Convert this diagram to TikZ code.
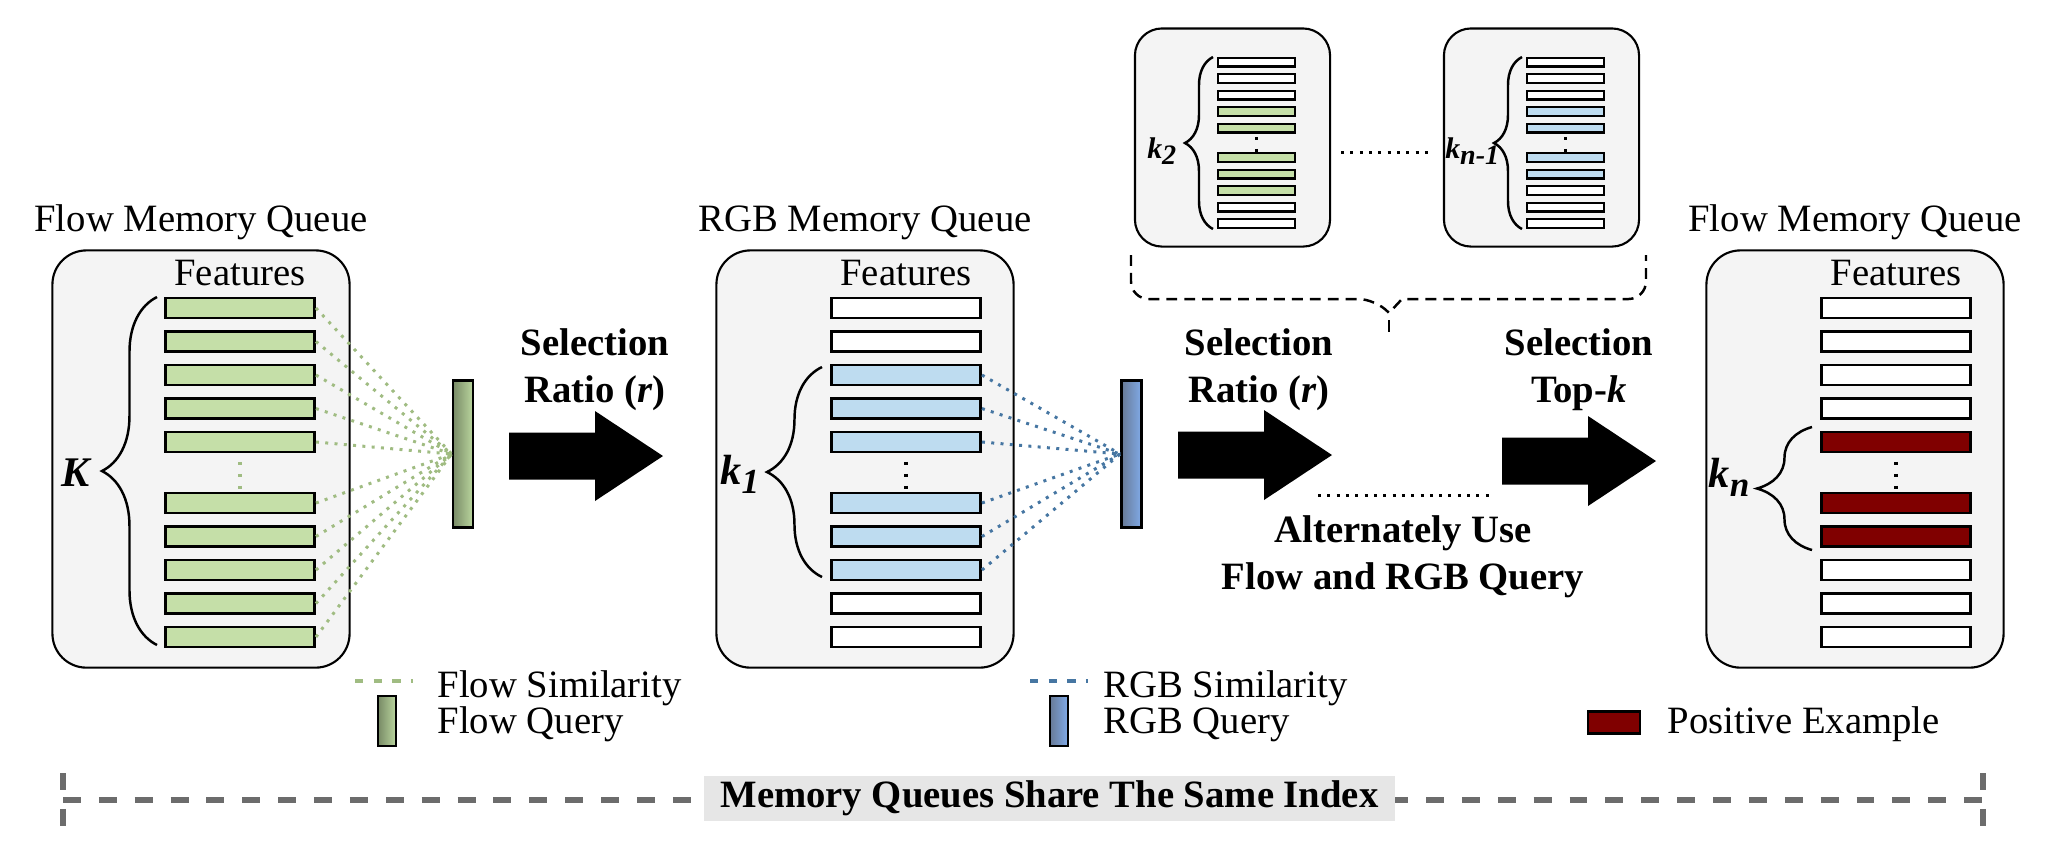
\documentclass[tikz,border=0pt]{standalone}
\usepackage{fontspec}
\setmainfont{Liberation Serif}
\usetikzlibrary{positioning,calc,decorations.pathreplacing}

\definecolor{boxgray}{RGB}{244,244,244}
\definecolor{featgreen}{RGB}{197,223,168}
\definecolor{featblue}{RGB}{190,220,240}
\definecolor{posred}{RGB}{128,0,0}
\definecolor{simgreen}{RGB}{160,188,130}
\definecolor{simblue}{RGB}{70,118,162}
\definecolor{flowdark}{RGB}{120,138,102}
\definecolor{flowlight}{RGB}{186,214,158}
\definecolor{rgbdark}{RGB}{104,122,150}
\definecolor{rgblight}{RGB}{128,170,232}
\definecolor{idxgray}{RGB}{108,108,108}
\definecolor{idxfill}{RGB}{230,230,230}

\newcommand{\kname}[3]{{\fontsize{#1}{#1}\selectfont\bfseries\itshape k\raisebox{-0.45ex}{\fontsize{#2}{#2}\selectfont #3}}}

\tikzset{
  queuebox/.style={draw, line width=0.6pt, fill=boxgray, rounded corners=0.34cm, minimum width=2.97cm, minimum height=4.17cm, inner sep=0pt},
  smallbox/.style={queuebox, rounded corners=0.27cm, minimum width=1.95cm, minimum height=2.18cm},
  feat/.style={draw, line width=0.8pt, minimum width=1.49cm, minimum height=0.20cm, inner sep=0pt},
  smallfeat/.style={draw, line width=0.7pt, minimum width=0.77cm, minimum height=0.085cm, inner sep=0pt},
  query/.style={draw, line width=0.8pt, minimum width=0.2cm, minimum height=1.47cm, inner sep=0pt},
  simdots/.style={line width=0.85pt, dash pattern=on 0.85pt off 1.8pt},
  legdots/.style={line width=1.2pt, dash pattern=on 2.4pt off 2.9pt},
  vdots/.style={line width=0.9pt, dash pattern=on 0.9pt off 2.5pt},
  kbrace/.style={decorate, decoration={brace, amplitude=#1}, line width=0.7pt},
  bracedash/.style={line width=0.7pt, dash pattern=on 3.1pt off 2pt},
  idxline/.style={idxgray, line width=1.45pt, dash pattern=on 5.1pt off 5.1pt},
  plain/.style={inner sep=0pt},
  boldlabel/.style={inner sep=0pt, align=center, font=\fontsize{11}{13.4}\selectfont\bfseries},
  fatarrow/.pic={\fill (0,-23.5) -- (86,-23.5) -- (86,-45) -- (154,0) -- (86,45) -- (86,23.5) -- (0,23.5) -- cycle;}
}

\begin{document}
\begin{tikzpicture}[x=0.01cm, y=-0.01cm, font=\fontsize{11}{13.4}\selectfont]
  \useasboundingbox (0,0) rectangle (2063,850);
  \def\rowsA{1/308,2/341.5,3/375,4/408.5,5/442,6/503,7/536.5,8/570,9/603.5,10/637}

  % flow memory queue
  \node[queuebox] (flowq) at (201,459) {};
  \node[plain, above=0.09cm of flowq] (flowqt) {Flow Memory Queue};
  \foreach \i/\y in \rowsA
    \node[feat, fill=featgreen] (fl\i) at (240,\y) {};
  \node[plain, above=0.1cm of fl1] (flowf) {Features};
  \draw[vdots, simgreen, shorten <=2.4pt] (fl5.south) -- (fl6.north);
  \draw[kbrace=0.55cm] (157,645) -- (157,297);
  \node[plain, anchor=east] (bigk) at (90,473) {\fontsize{12}{12}\selectfont\bfseries\itshape K};
  \node[query, left color=flowdark, right color=flowlight] (fq) at (463,454) {};
  \foreach \i in {1,...,10}
    \draw[simdots, simgreen] (fl\i.east) -- (fq.west);

  \pic (arrA) at (509,456) {fatarrow};
  \node[boldlabel] (selA) at (595,370) {Selection\\Ratio (\textit{r})};

  % rgb memory queue
  \node[queuebox] (rgbq) at (865,459) {};
  \node[plain, above=0.09cm of rgbq] (rgbqt) {RGB Memory Queue};
  \foreach \i/\y/\c in {1/308/white,2/341.5/white,3/375/featblue,4/408.5/featblue,5/442/featblue,
                        6/503/featblue,7/536.5/featblue,8/570/featblue,9/603.5/white,10/637/white}
    \node[feat, fill=\c] (rg\i) at (906,\y) {};
  \node[plain, above=0.1cm of rg1] (rgbf) {Features};
  \draw[vdots, shorten <=2.4pt] (rg5.south) -- (rg6.north);
  \draw[kbrace=0.55cm] (822,577) -- (822,367);
  \node[plain, anchor=east] (k1) at (760,474) {\kname{12}{10}{1}};
  \node[query, left color=rgbdark, right color=rgblight] (rq) at (1131.5,454) {};
  \foreach \i in {3,...,8}
    \draw[simdots, simblue] (rg\i.east) -- (rq.west);

  \pic (arrB) at (1178,455) {fatarrow};
  \node[boldlabel] (selB) at (1259,370) {Selection\\Ratio (\textit{r})};

  % alternating queues
  \node[smallbox] (sbox1) at (1232.5,137.5) {};
  \node[smallbox] (sbox2) at (1541.5,137.5) {};
  \foreach \i/\y/\c in {1/62/white,2/78.5/white,3/95/white,4/111.5/featgreen,5/128/featgreen,
                        6/157.5/featgreen,7/174/featgreen,8/190.5/featgreen,9/207/white,10/223.5/white}
    \node[smallfeat, fill=\c] (sa\i) at (1256.5,\y) {};
  \foreach \i/\y/\c in {1/62/white,2/78.5/white,3/95/white,4/111.5/featblue,5/128/featblue,
                        6/157.5/featblue,7/174/featblue,8/190.5/white,9/207/white,10/223.5/white}
    \node[smallfeat, fill=\c] (sb\i) at (1565.5,\y) {};
  \draw[vdots, shorten <=1pt] (sa5.south) -- (sa6.north);
  \draw[vdots, shorten <=1pt] (sb5.south) -- (sb6.north);
  \draw[kbrace=0.28cm] (1213,229) -- (1213,57);
  \draw[kbrace=0.28cm] (1522,229) -- (1522,57);
  \node[plain, anchor=east] (k2) at (1177,151) {\kname{8.5}{8}{2}};
  \node[plain, anchor=east] (kn1) at (1500,151) {\kname{8.5}{8}{n-1}};
  \draw[simdots] ($(sbox1.east)+(10,14.5)$) -- ($(sbox2.west)+(-9,14.5)$);
  \draw[bracedash] (1131,255) [rounded corners=5pt] -- (1131,299) -- (1376,299) [sharp corners] -- (1389,313)
    -- (1402,299) [rounded corners=5pt] -- (1646,299) -- (1646,255);
  \draw[line width=0.7pt] (1389,320) -- (1389,332);

  \draw[simdots] (1318,495) -- (1491,495);
  \node[boldlabel] (alt) at (1403,557) {Alternately Use\\Flow and RGB Query};

  \pic (arrC) at (1502,461) {fatarrow};
  \node[boldlabel] (selC) at (1579,370) {Selection\\Top-\textit{k}};

  % positive examples
  \node[queuebox] (posq) at (1855,459) {};
  \node[plain, above=0.09cm of posq] (posqt) {Flow Memory Queue};
  \foreach \i/\y/\c in {1/308/white,2/341.5/white,3/375/white,4/408.5/white,5/442/posred,
                        6/503/posred,7/536.5/posred,8/570/white,9/603.5/white,10/637/white}
    \node[feat, fill=\c] (po\i) at (1896,\y) {};
  \node[plain, above=0.1cm of po1] (posf) {Features};
  \draw[vdots, shorten <=2.4pt] (po5.south) -- (po6.north);
  \draw[kbrace=0.55cm] (1812,550) -- (1812,427);
  \node[plain, anchor=east] (kn) at (1750,477) {\kname{12}{10}{n}};

  % legend
  \draw[legdots, simgreen] (355,681) -- (413,681);
  \node[plain, anchor=base west] (lfs) at (437,697) {Flow Similarity};
  \node[query, left color=flowdark, right color=flowlight, minimum width=0.18cm, minimum height=0.5cm] (lfq) at (387,721) {};
  \node[plain, anchor=base west] (lfqt) at (437,733) {Flow Query};
  \draw[legdots, simblue] (1030,681) -- (1088,681);
  \node[plain, anchor=base west] (lrs) at (1103,697) {RGB Similarity};
  \node[query, left color=rgbdark, right color=rgblight, minimum width=0.18cm, minimum height=0.5cm] (lrq) at (1059,721) {};
  \node[plain, anchor=base west] (lrqt) at (1103,733) {RGB Query};
  \node[feat, fill=posred, minimum width=0.52cm, minimum height=0.22cm] (lpos) at (1614,722.5) {};
  \node[plain, anchor=base west] (lpost) at (1667,733) {Positive Example};

  % shared index
  \coordinate (idxL) at (63,800);
  \coordinate (idxR) at (1983,800);
  \draw[idxline] (idxL) -- (idxR);
  \draw[idxline, dash pattern=on 4.8pt off 5.4pt] (63,773) -- (63,827);
  \draw[idxline, dash pattern=on 4.8pt off 5.4pt] (1983,773) -- (1983,827);
  \node[boldlabel, fill=idxfill, minimum width=6.91cm, minimum height=0.45cm] (idx) at (1049.5,798.5) {Memory Queues Share The Same Index};
\end{tikzpicture}
\end{document}
